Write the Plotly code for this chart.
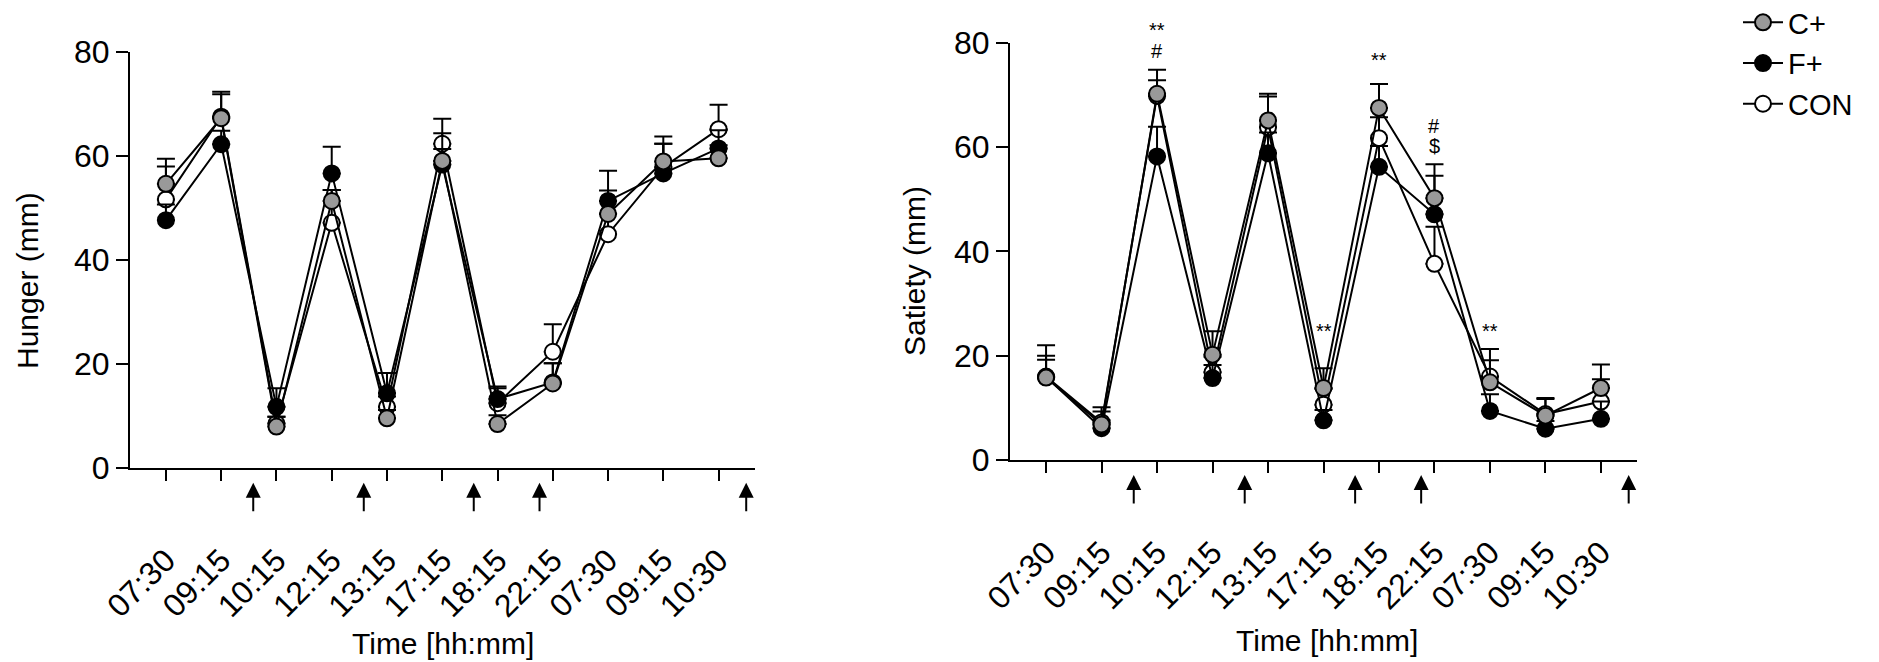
import plotly.graph_objects as go

# time points (two days), shown as tick labels
time_labels = ["07:30", "09:15", "10:15", "12:15", "13:15", "17:15",
               "18:15", "22:15", "07:30", "09:15", "10:30"]
x_pos = list(range(len(time_labels)))

# Hunger (mm), mean and upper SEM
hunger_cplus = [54.6, 67.2, 7.9, 51.3, 9.5, 59.0, 8.4, 16.2, 48.8, 58.9, 59.5]
hunger_cplus_err = [4.8, 5.1, 1.9, 2.1, 1.6, 5.3, 1.7, 3.9, 4.5, 4.8, 2.5]
hunger_fplus = [47.6, 62.2, 11.7, 56.6, 14.3, 58.3, 13.2, 16.4, 51.3, 56.6, 61.4]
hunger_fplus_err = [3.0, 2.6, 3.6, 5.1, 3.9, 3.0, 2.4, 3.7, 5.8, 5.7, 3.5]
hunger_con = [51.6, 67.5, 8.5, 47.1, 11.7, 62.3, 12.4, 22.3, 44.9, 57.8, 65.1]
hunger_con_err = [6.3, 4.3, 1.3, 6.3, 2.0, 4.8, 2.9, 5.3, 4.0, 4.5, 4.7]

# Satiety (mm), mean and upper SEM
satiety_cplus = [15.8, 6.8, 70.2, 20.2, 65.1, 13.8, 67.5, 50.2, 14.9, 8.5, 13.8]
satiety_cplus_err = [6.2, 3.3, 4.6, 4.5, 5.1, 3.8, 4.6, 6.5, 6.4, 3.4, 4.5]
satiety_fplus = [15.9, 6.1, 58.2, 15.7, 58.8, 7.6, 56.2, 47.1, 9.4, 6.0, 7.9]
satiety_fplus_err = [3.3, 1.5, 5.7, 2.5, 4.0, 2.0, 4.0, 7.4, 3.2, 1.5, 3.3]
satiety_con = [16.0, 7.2, 69.8, 16.8, 63.8, 10.6, 61.7, 37.6, 16.0, 8.8, 11.2]
satiety_con_err = [4.0, 2.1, 3.0, 3.0, 5.9, 3.0, 4.0, 7.1, 3.1, 2.9, 4.3]

# meal times (arrows under the axis), in x-axis units
meal_x = [1.58, 3.58, 5.57, 6.76, 10.5]

# significance marks on the satiety panel
sig_x = [2, 2, 5, 6, 7, 7, 8]
sig_y = [82.5, 78.4, 24.8, 76.7, 64.0, 60.2, 24.8]
sig_text = ["**", "#", "**", "**", "#", "$", "**"]

FONT = "Liberation Sans, Arial, sans-serif"
GREY = "#999999"
PX_PER_UNIT = 5.2  # vertical pixels per mm on both panels

# the page body has an 8px margin, so the figure is made 8px smaller
W, H, OFF = 1871, 654, 8


def px_x(px):
    return (px - OFF) / W


def px_y(py):
    return 1 - (py - OFF) / H


groups = [
    ("CON", "white"),
    ("F+", "black"),
    ("C+", GREY),
]
hunger = {"CON": (hunger_con, hunger_con_err), "F+": (hunger_fplus, hunger_fplus_err),
          "C+": (hunger_cplus, hunger_cplus_err)}
satiety = {"CON": (satiety_con, satiety_con_err), "F+": (satiety_fplus, satiety_fplus_err),
           "C+": (satiety_cplus, satiety_cplus_err)}

fig = go.Figure()

for panel, (data, xa, ya) in enumerate([(hunger, "x", "y"), (satiety, "x2", "y2")]):
    for name, colour in groups:
        vals, err = data[name]
        fig.add_trace(go.Scatter(
            x=x_pos, y=vals, name=name, mode="lines+markers",
            xaxis=xa, yaxis=ya, showlegend=(panel == 1), cliponaxis=False,
            line=dict(color="black", width=2),
            marker=dict(size=16, color=colour, line=dict(color="black", width=2)),
            error_y=dict(type="data", array=err, arrayminus=[0] * len(err),
                         symmetric=False, color="black", thickness=2, width=9),
        ))

axis_common = dict(
    showline=True, linecolor="black", linewidth=2, showgrid=False, zeroline=False,
    ticks="outside", tickwidth=2, tickcolor="black", automargin=False,
    tickfont=dict(family=FONT, size=32, color="black"),
)
xaxis_common = dict(axis_common, range=[-0.65, 10.65], tickvals=x_pos,
                    ticktext=time_labels, tickangle=-45, ticklen=11,
                    ticklabelstandoff=48)
yaxis_common = dict(axis_common, range=[0, 80], tickvals=[0, 20, 40, 60, 80],
                    ticklen=12)

fig.update_layout(
    width=W, height=H,
    margin=dict(l=0, r=0, t=0, b=0, autoexpand=False),
    template="none",
    plot_bgcolor="white", paper_bgcolor="white",
    font=dict(family=FONT, color="black"),
    xaxis=dict(xaxis_common, domain=[px_x(130), px_x(754.5)], anchor="y"),
    yaxis=dict(yaxis_common, domain=[px_y(467.7), px_y(51.7)], anchor="x"),
    xaxis2=dict(xaxis_common, domain=[px_x(1010), px_x(1637)], anchor="y2"),
    yaxis2=dict(yaxis_common, domain=[px_y(460), px_y(42.7)], anchor="x2"),
    legend=dict(x=px_x(1738), y=px_y(-3), xanchor="left", yanchor="top",
                traceorder="reversed", font=dict(family=FONT, size=29),
                itemwidth=40, bgcolor="rgba(0,0,0,0)"),
)

# axis titles
titles = [
    ("Hunger (mm)", 27, 281, -90),
    ("Satiety (mm)", 914, 271, -90),
    ("Time [hh:mm]", 443, 643, 0),
    ("Time [hh:mm]", 1327, 640, 0),
]
for txt, tx, ty, ang in titles:
    fig.add_annotation(x=px_x(tx), y=px_y(ty), xref="paper", yref="paper",
                       xanchor="center", yanchor="middle",
                       text=txt, textangle=ang, showarrow=False,
                       font=dict(family=FONT, size=30, color="black"))

# meal arrows below each x axis
for xa, ya in [("x", "y"), ("x2", "y2")]:
    for mx in meal_x:
        fig.add_annotation(x=mx, y=0, xref=xa, yref=ya, text="",
                           showarrow=True, ax=0, ay=30, yshift=-15,
                           arrowhead=2, arrowsize=1.5, arrowwidth=2,
                           arrowcolor="black")

# significance markers (marks above 80 are shifted from the top of the axis)
for sx, sy, st in zip(sig_x, sig_y, sig_text):
    anchor_y = min(sy, 80)
    fig.add_annotation(x=sx, y=anchor_y, xref="x2", yref="y2", text=st,
                       showarrow=False, yshift=(sy - anchor_y) * PX_PER_UNIT,
                       font=dict(family=FONT, size=20, color="black"))

fig.write_html("out.html")
